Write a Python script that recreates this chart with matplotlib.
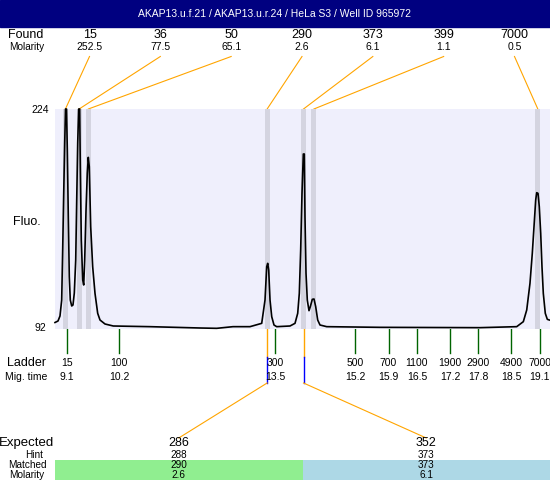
import matplotlib
matplotlib.use("Agg")
import matplotlib.pyplot as plt
from matplotlib import transforms
from matplotlib.patches import Rectangle

plt.rcParams['font.family'] = ['Liberation Sans', 'DejaVu Sans']

# ---------------- data ----------------
title = "AKAP13.u.f.21 / AKAP13.u.r.24 / HeLa S3 / Well ID 965972"

found_sizes = ["15", "36", "50", "290", "373", "399", "7000"]
found_molarity = ["252.5", "77.5", "65.1", "2.6", "6.1", "1.1", "0.5"]
peak_time = [9.06, 9.35, 9.545, 13.33, 14.10, 14.32, 19.06]

ladder_sizes = ["15", "100", "300", "500", "700", "1100", "1900", "2900", "4900", "7000"]
ladder_time = [9.1, 10.2, 13.5, 15.2, 15.9, 16.5, 17.2, 17.8, 18.5, 19.1]

trace_time = [8.839, 8.903, 8.945, 8.981, 9.002, 9.024, 9.045, 9.062, 9.083, 9.100,
              9.121, 9.142, 9.163, 9.193, 9.220, 9.248, 9.278, 9.299, 9.320, 9.341,
              9.362, 9.375, 9.396, 9.426, 9.447, 9.468, 9.496, 9.523, 9.544, 9.565,
              9.595, 9.637, 9.686, 9.743, 9.792, 9.898, 10.073, 10.85, 11.909, 12.262,
              12.607, 12.967, 13.215, 13.285, 13.321, 13.342, 13.363, 13.391, 13.427, 13.475,
              13.532, 13.814, 13.92, 13.977, 14.011, 14.040, 14.068, 14.096, 14.117, 14.131,
              14.153, 14.180, 14.216, 14.244, 14.286, 14.322, 14.358, 14.400, 14.449, 14.591,
              15.719, 16.778, 17.836, 18.613, 18.753, 18.825, 18.894, 18.943, 18.979, 19.015,
              19.036, 19.064, 19.091, 19.121, 19.148, 19.176, 19.218, 19.261, 19.303]
trace_fluo = [95.9, 96.8, 99.8, 109.4, 139.4, 173.6, 203.6, 224.0, 224.0, 199.4,
              159.4, 123.4, 109.4, 105.8, 106.4, 113.6, 133.4, 169.4, 203.6, 224.0,
              224.0, 189.4, 145.4, 121.4, 118.4, 133.4, 163.4, 185.6, 195.0, 189.4,
              153.4, 129.4, 113.4, 101.4, 97.4, 95.0, 93.8, 93.4, 92.6, 92.4,
              93.4, 93.4, 95.4, 109.4, 129.4, 131.4, 127.4, 109.4, 99.4, 94.4,
              93.4, 93.8, 95.4, 101.4, 113.4, 139.4, 173.4, 197.0, 197.0, 159.4,
              125.4, 109.4, 103.0, 105.4, 109.8, 110.0, 105.4, 97.4, 94.4, 93.4,
              93.0, 92.9, 92.8, 93.4, 96.4, 103.4, 119.4, 137.4, 153.4, 169.4,
              173.8, 173.4, 165.4, 149.4, 129.4, 113.4, 101.4, 97.8, 97.4]

expected_sizes = ["286", "352"]
hint_sizes = ["288", "373"]
matched_sizes = ["290", "373"]
matched_molarity = ["2.6", "6.1"]
matched_peak_index = [3, 4]
matched_colors = ["#90ee90", "#add8e6"]

y_min, y_max = 92, 224

# ---------------- figure ----------------
W, H = 550, 480
fig = plt.figure(figsize=(W / 100, H / 100), dpi=100)

ov = fig.add_axes([0, 0, 1, 1])
ov.set_xlim(0, W)
ov.set_ylim(H, 0)
ov.axis('off')

PL, PR, PT, PB = 55, 550, 109, 329
ax = fig.add_axes([PL / W, (H - PB) / H, (PR - PL) / W, (PB - PT) / H])
t_left = 15.3 + (PL - 360.2) / 47.24
t_right = 15.3 + (PR - 360.2) / 47.24
ax.set_xlim(t_left, t_right)
ax.set_ylim(y_min, y_max)
ax.set_facecolor('#efeffc')
for s in ax.spines.values():
    s.set_visible(False)
ax.set_xticks([])
ax.set_yticks([])

for t in peak_time:
    ax.axvspan(t - 0.053, t + 0.053, color='#d4d4e0', lw=0, zorder=1)
ax.plot(trace_time, trace_fluo, color='black', lw=1.2, zorder=3, clip_on=False)

# mixed transform: x in migration time, y in pixels
mix = transforms.blended_transform_factory(ax.transData, ov.transData)

def px(t):
    return ov.transData.inverted().transform(ax.transData.transform((t, y_min)))[0]

# title bar
ov.add_patch(Rectangle((0, 0), W, 27, color='#000080', zorder=0))
ov.text(W / 2, 14, title, color='white', ha='center', va='center', fontsize=7.5)

# found rows
ov.text(26, 34.5, "Found", ha='center', va='center', fontsize=9)
ov.text(26.5, 46.5, "Molarity", ha='center', va='center', fontsize=7.2)
n = len(found_sizes)
for i in range(n):
    lx = 89.5 + i * (514.5 - 89.5) / (n - 1)
    ov.text(lx, 34.5, found_sizes[i], ha='center', va='center', fontsize=9)
    ov.text(lx, 46.5, found_molarity[i], ha='center', va='center', fontsize=7.5)
    ov.plot([lx, px(peak_time[i])], [56.5, PT], color='#ffa500', lw=0.8)

# y labels
ov.text(49, 110, str(y_max), ha='right', va='center', fontsize=7.5)
ov.text(46, 328, str(y_min), ha='right', va='center', fontsize=7.5)
ov.text(27, 222, "Fluo.", ha='center', va='center', fontsize=9)

# ladder
ov.text(27, 363, "Ladder", ha='center', va='center', fontsize=9)
ov.text(26, 377, "Mig. time", ha='center', va='center', fontsize=7.5)
for s, t in zip(ladder_sizes, ladder_time):
    ov.plot([t, t], [PB, 353], color='#006400', lw=1.0, transform=mix)
    ov.text(t, 363, s, ha='center', va='center', fontsize=7.5, transform=mix)
    ov.text(t, 377, f"{t:.1f}", ha='center', va='center', fontsize=7.5, transform=mix)

# expected / matched table
ov.text(27, 443, "Expected", ha='center', va='center', fontsize=9.5)
ov.text(34, 455, "Hint", ha='center', va='center', fontsize=7.2)
ov.text(27, 465.5, "Matched", ha='center', va='center', fontsize=7.2)
ov.text(27, 474.5, "Molarity", ha='center', va='center', fontsize=7.2)
m = len(expected_sizes)
col_w = (PR - PL) / m
for j in range(m):
    x0 = PL + j * col_w
    cx = x0 + col_w / 2
    ov.add_patch(Rectangle((x0, 460), col_w, H - 460, color=matched_colors[j], lw=0, zorder=0))
    ov.text(cx, 443, expected_sizes[j], ha='center', va='center', fontsize=9)
    ov.text(cx, 455, hint_sizes[j], ha='center', va='center', fontsize=7.2)
    ov.text(cx, 465.5, matched_sizes[j], ha='center', va='center', fontsize=7.2)
    ov.text(cx, 474.5, matched_molarity[j], ha='center', va='center', fontsize=7.2)
    t = peak_time[matched_peak_index[j]]
    ov.plot([t, t], [PB, 357], color='#ffa500', lw=1.0, transform=mix)
    ov.plot([t, t], [357, 383], color='#0000ff', lw=1.0, transform=mix)
    ov.plot([px(t), cx], [383, 438], color='#ffa500', lw=0.8)

fig.savefig("out.png", dpi=100)
